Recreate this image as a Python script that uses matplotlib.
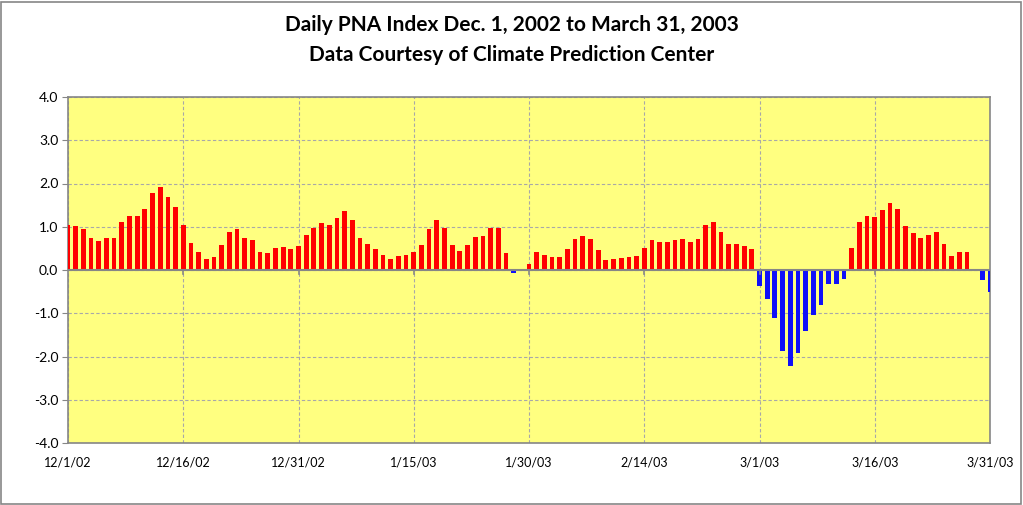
import matplotlib
matplotlib.use("Agg")
from matplotlib import pyplot as plt
from matplotlib.patches import Rectangle
import numpy as np

# Daily PNA index, 12/1/02 .. 3/31/03 (121 days).
pna = [
    1.05, 1.01, 0.94, 0.73, 0.66, 0.73, 0.75, 1.12, 1.26, 1.24,
    1.42, 1.77, 1.91, 1.68, 1.45, 1.03, 0.62, 0.41, 0.25, 0.29,
    0.57, 0.87, 0.94, 0.73, 0.69, 0.41, 0.39, 0.50, 0.53, 0.48,
    0.55, 0.80, 0.98, 1.08, 1.05, 1.21, 1.37, 1.15, 0.73, 0.60,
    0.48, 0.34, 0.25, 0.32, 0.34, 0.41, 0.57, 0.94, 1.15, 0.96,
    0.57, 0.44, 0.57, 0.76, 0.78, 0.98, 0.98, 0.39, -0.06, 0.0,
    0.14, 0.41, 0.34, 0.30, 0.30, 0.48, 0.71, 0.78, 0.71, 0.46,
    0.23, 0.25, 0.28, 0.30, 0.32, 0.50, 0.69, 0.64, 0.64, 0.69,
    0.71, 0.64, 0.71, 1.03, 1.10, 0.87, 0.60, 0.60, 0.55, 0.48,
    -0.38, -0.68, -1.10, -1.88, -2.22, -1.91, -1.42, -1.03, -0.80, -0.32,
    -0.32, -0.20, 0.51, 1.11, 1.25, 1.22, 1.38, 1.56, 1.42, 1.02,
    0.85, 0.74, 0.81, 0.88, 0.60, 0.32, 0.41, 0.41, 0.0, -0.23,
    -0.51,
]
tick_days = [0, 15, 30, 45, 60, 75, 90, 105, 120]
tick_labels = ['12/1/02', '12/16/02', '12/31/02', '1/15/03', '1/30/03',
               '2/14/03', '3/1/03', '3/16/03', '3/31/03']
y_ticks = [4, 3, 2, 1, 0, -1, -2, -3, -4]

plt.rcParams['font.family'] = ['Lato', 'DejaVu Sans']

W, H = 1023, 505
fig = plt.figure(figsize=(W / 100, H / 100), dpi=100)
fig.patches.append(Rectangle((1 / W, 1 / H), 1 - 3 / W, 1 - 3 / H, transform=fig.transFigure,
                             fill=False, edgecolor='#868686', linewidth=1.2))

ax = fig.add_axes([68 / W, (H - 443) / H, 922 / W, 346 / H])
ax.set_facecolor('#FFFF80')

days = np.arange(len(pna))
vals = np.array(pna)
colours = np.where(vals < 0, '#1010F8', '#FF0000')
ax.bar(days, vals, width=0.62, color=colours, zorder=3)

ax.set_xlim(0, 120)
ax.set_ylim(-4, 4)

ax.set_yticks(y_ticks)
ax.set_yticklabels(['%.1f' % v for v in y_ticks], fontsize=10)
ax.set_xticks(tick_days)
ax.set_xticklabels(tick_labels, fontsize=9)
ax.tick_params(axis='x', length=0, pad=10)
ax.tick_params(axis='y', length=4, color='#868686', pad=3)

ax.grid(True, color='#A8A8A8', linestyle=(0, (3, 2)), linewidth=0.8, zorder=0)
ax.axhline(0, color='#868686', linewidth=1.5, zorder=4)
for d in tick_days[1:-1]:
    ax.plot([d, d], [0, -0.1], color='#868686', linewidth=1.2, zorder=4)

for s in ax.spines.values():
    s.set_color('#868686')
    s.set_linewidth(1.2)

fig.text(0.5, 1 - 25 / H, 'Daily PNA Index Dec. 1, 2002 to March 31, 2003',
         ha='center', va='center', fontsize=15, fontweight='bold')
fig.text(0.5, 1 - 55 / H, 'Data Courtesy of Climate Prediction Center',
         ha='center', va='center', fontsize=15, fontweight='bold')

fig.savefig('out.png', dpi=100)
